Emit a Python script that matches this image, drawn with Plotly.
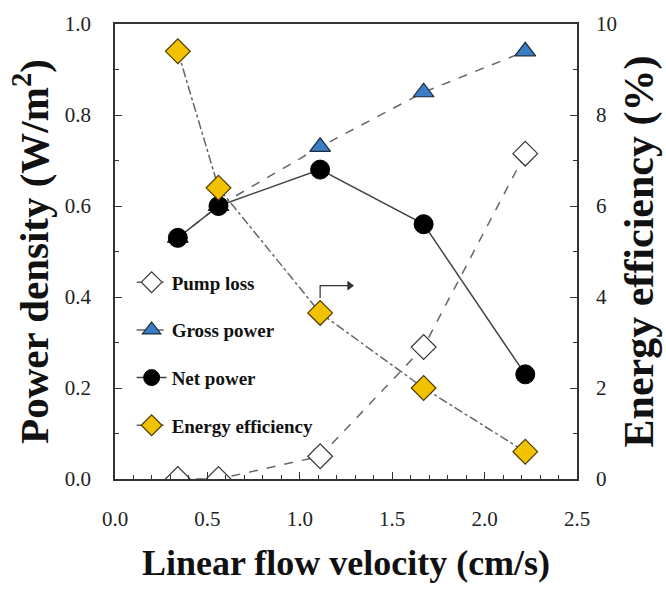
import plotly.graph_objects as go

velocity = [0.34, 0.56, 1.11, 1.67, 2.22]
pump_loss = [0.0, 0.0, 0.05, 0.29, 0.715]
gross_power = [0.53, 0.60, 0.73, 0.85, 0.94]
net_power = [0.53, 0.60, 0.68, 0.56, 0.23]
energy_eff = [9.4, 6.4, 3.65, 2.0, 0.6]

FONT = "Liberation Serif"
fig = go.Figure()

fig.add_trace(go.Scatter(
    x=velocity, y=pump_loss, name="Pump loss", legendgroup="a",
    mode="lines+markers",
    line=dict(color="#666666", width=1.5, dash="dash"),
    marker=dict(symbol="diamond", size=19, color="white", line=dict(color="#333333", width=1.2)),
))
fig.add_trace(go.Scatter(
    x=velocity, y=gross_power, name="Gross power", legendgroup="b",
    mode="lines+markers",
    line=dict(color="#666666", width=1.5, dash="dash"),
    marker=dict(symbol="triangle-up", size=18, color="#3B7DC4", line=dict(color="#1a2a3a", width=1.2)),
))
fig.add_trace(go.Scatter(
    x=velocity, y=net_power, name="Net power", legendgroup="c",
    mode="lines+markers",
    line=dict(color="#444444", width=1.5),
    marker=dict(symbol="circle", size=19, color="black", line=dict(color="black", width=1)),
))
fig.add_trace(go.Scatter(
    x=velocity, y=energy_eff, name="Energy efficiency", legendgroup="d",
    yaxis="y2", mode="lines+markers",
    line=dict(color="#666666", width=1.5, dash="dashdot"),
    marker=dict(symbol="diamond", size=19, color="#F2C200", line=dict(color="#4a3a00", width=1.2)),
))

# bent arrow indicating the right axis (decoration)
fig.add_shape(type="path", xref="x", yref="y",
              path="M 1.11 0.398 L 1.11 0.425 L 1.265 0.425",
              line=dict(color="#333333", width=1.2))
fig.add_shape(type="path", xref="x", yref="y",
              path="M 1.26 0.416 L 1.29 0.425 L 1.26 0.434 Z",
              line=dict(color="#333333", width=1), fillcolor="#333333")

axis_common = dict(
    showline=True, linecolor="#333333", linewidth=1.5, ticks="inside", ticklen=7,
    tickcolor="#333333", showgrid=False, zeroline=False,
    tickfont=dict(family=FONT, size=21, color="#222222"),
)

fig.update_layout(
    width=666, height=593,
    margin=dict(l=115, r=89, t=22, b=114),
    plot_bgcolor="white", paper_bgcolor="white",
    font=dict(family=FONT),
    xaxis=dict(range=[0, 2.5], dtick=0.5, tickformat=".1f", mirror=True, ticklabelstandoff=20,
               minor=dict(dtick=0.1, ticks="inside", ticklen=4, tickcolor="#333333"),
               title=dict(text="<b>Linear flow velocity (cm/s)</b>", font=dict(family=FONT, size=36, color="#111111"), standoff=20),
               **axis_common),
    yaxis=dict(range=[0, 1.0], dtick=0.2, tickformat=".1f", ticklabelstandoff=18,
               minor=dict(dtick=0.1, ticks="inside", ticklen=4, tickcolor="#333333"),
               title=dict(text="<b>Power density (W/m<sup>2</sup>)</b>", font=dict(family=FONT, size=41, color="#111111"), standoff=3),
               **axis_common),
    yaxis2=dict(range=[0, 10], dtick=2, overlaying="y", side="right", ticklabelstandoff=13,
                minor=dict(dtick=1, ticks="inside", ticklen=4, tickcolor="#333333"),
                title=dict(text="<b>Energy efficiency (%)</b>", font=dict(family=FONT, size=42, color="#111111"), standoff=8),
                **axis_common),
    legend=dict(x=0.036, y=0.474, xanchor="left", yanchor="top", bgcolor="rgba(0,0,0,0)",
                font=dict(family=FONT, size=19, color="#111111", weight="bold"),
                tracegroupgap=20, itemsizing="trace"),
    showlegend=True,
)

fig.write_html("out.html")
